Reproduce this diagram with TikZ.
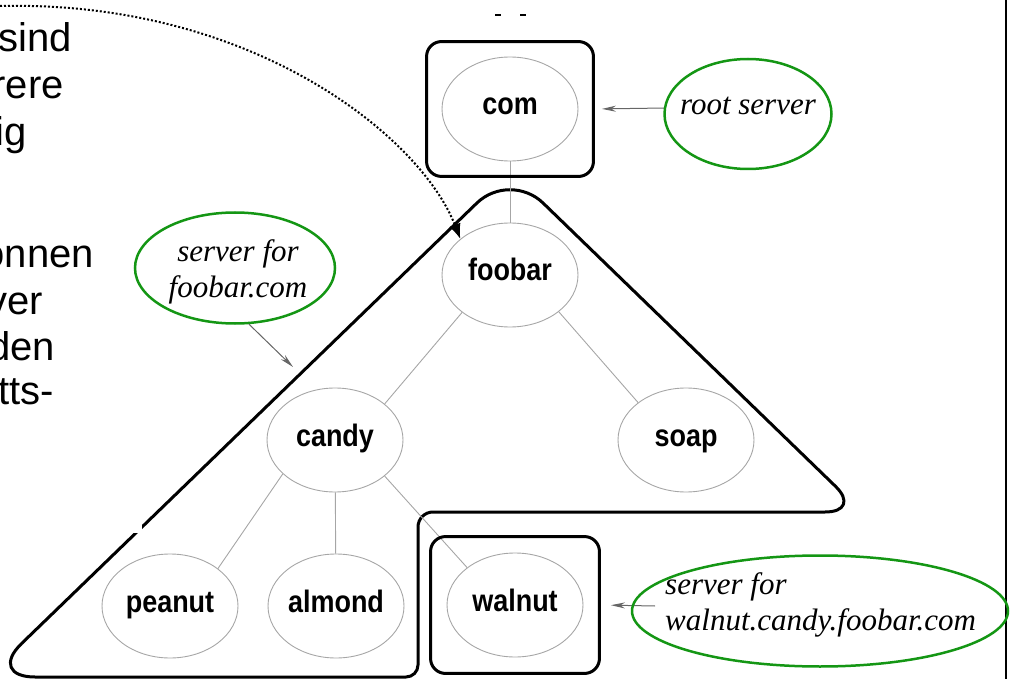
\documentclass[tikz,border=0pt]{standalone}
\usepackage{fontspec}
\setmainfont{Liberation Sans}
\newfontfamily\treefont[FakeStretch=0.87]{Liberation Sans Bold}
\newfontfamily\notefont{Liberation Serif Italic}
\usetikzlibrary{arrows.meta,fit,shapes.geometric}
\definecolor{notegreen}{RGB}{20,150,20}

\tikzset{
  slidetext/.style={font=\fontsize{40}{47}\selectfont, inner sep=0, anchor=base east},
  dnsnode/.style={ellipse, draw=gray!70, line width=0.9, minimum width=136, minimum height=104,
    inner sep=-3pt, text height=12, text depth=0, font=\treefont\fontsize{31}{31}\selectfont},
  zonebox/.style={draw, line width=3, rounded corners=15, inner sep=15},
  zoneline/.style={line width=3, line join=round},
  note/.style={ellipse, draw=notegreen, line width=2.5},
  notetext/.style={font=\notefont\fontsize{31}{36}\selectfont, inner sep=0},
  link/.style={gray!70, line width=0.9},
  pointer/.style={gray!80!black, line width=1, -{Stealth[length=14pt,width=6pt]}},
  hint/.style={dotted, line width=2, -{Latex[length=15pt,width=12pt]}}
}

\begin{document}
\begin{tikzpicture}[x=1pt,y=-1pt]
\useasboundingbox (0,0) rectangle (1010,679);

% slide text, cut off at the left
\node[slidetext] (t1) at (72,52) {sind};
\node[slidetext] (t2) at (64,99) {rere};
\node[slidetext] (t3) at (27,146) {ig};
\node[slidetext] (t4) at (94,268) {onnen};
\node[slidetext] (t5) at (43,314) {ver};
\node[slidetext] (t6) at (55,360) {den};
\node[slidetext] (t7) at (54,404) {tts-};

% bits of text at the top
\draw[line width=2] (495,15) -- (501,15);
\draw[line width=2] (520,15) -- (526,15);

% right border
\draw[line width=1.5] (1006,0) -- (1006,679);

% zone of foobar.com
\draw[zoneline] (200,677) [rounded corners=12] -- (418,677) [rounded corners=15] -- (418,512)
  [rounded corners=37] -- (862,512) [rounded corners=46] -- (510,171)
  [rounded corners=48] -- (-13,677) -- cycle;
\fill[white] (0,480) rectangle (142,533);

% the name tree
\node[dnsnode] (com) at (510,109) {com};
\node[dnsnode] (foobar) at (510,275) {foobar};
\node[dnsnode] (candy) at (335,440) {candy};
\node[dnsnode] (soap) at (686,440) {soap};
\node[dnsnode] (peanut) at (170,606) {peanut};
\node[dnsnode] (almond) at (336,606) {almond};
\node[dnsnode] (walnut) at (515,605) {walnut};

\draw[link] (com) -- (foobar);
\draw[link] (foobar.-142) -- (candy.36);
\draw[link] (foobar.-37) -- (soap.142);
\draw[link] (candy.-147) -- (peanut.38);
\draw[link] (candy) -- (almond);
\draw[link] (candy.-36) -- (walnut.142);

% zones of com and walnut
\node[zonebox, fit=(com)] (combox) {};
\node[zonebox, fit=(walnut), inner sep=16] (walbox) {};

% servers
\coordinate (rootfrom) at (665,108);
\coordinate (footip) at (293,367);
\coordinate (walfrom) at (655,606);
\draw[pointer, shorten >=7] (rootfrom) -- (combox.east);
\draw[pointer, shorten >=10] (walfrom) -- (walbox.east);

\node[note, minimum width=167, minimum height=110] (rootserver) at (748,114) {};
\node[notetext, anchor=base] (rootlabel) at (748,115) {root server};
\node[note, minimum width=200, minimum height=111] (fooserver) at (235,268) {};
\node[notetext, anchor=base, align=center] (foolabel) at (238,298) {server for\\foobar.com};
\node[note, minimum width=376, minimum height=111] (walserver) at (820,611) {};
\node[notetext, anchor=base west, align=left] (wallabel) at (665,630) {server for\\walnut.candy.foobar.com};

\draw[pointer] (fooserver.-76) -- (footip);

% hint from the slide text
\coordinate (from) at (0,6);
\draw[hint] (from) .. controls (250,0) and (420,135) .. (foobar.144);
\end{tikzpicture}
\end{document}
